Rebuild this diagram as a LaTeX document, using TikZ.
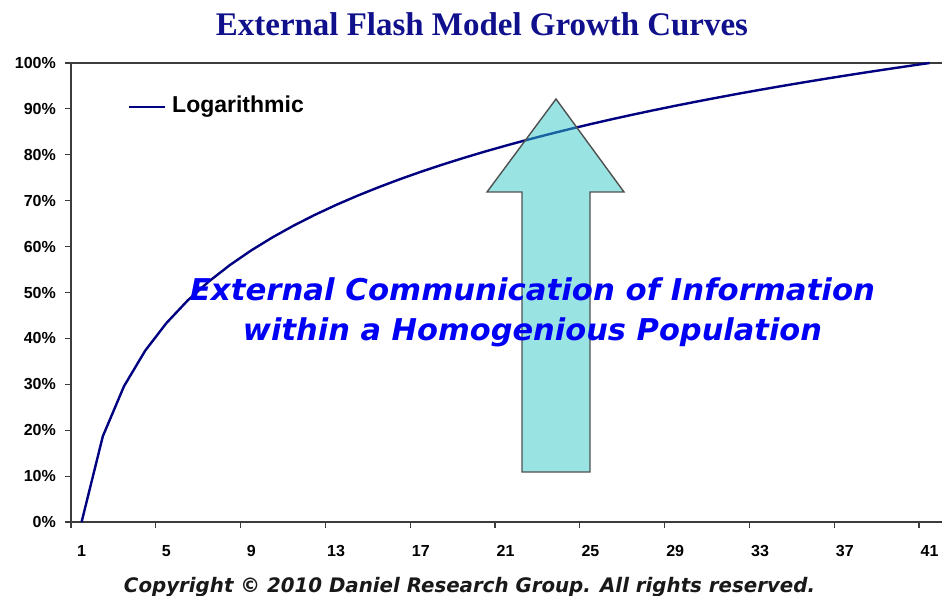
\documentclass[tikz,border=0pt]{standalone}
\usepackage{fontspec}
\usepackage{graphicx}
\setmainfont{Liberation Sans}
\newfontfamily\titlefont{Liberation Serif}
\newfontfamily\verdanafont{DejaVu Sans}
\definecolor{navy}{RGB}{0,0,128}
\definecolor{titleblue}{RGB}{16,16,140}
\definecolor{arrowfill}{RGB}{51,199,199}
\definecolor{arrowline}{RGB}{80,80,80}
\definecolor{textblue}{RGB}{0,0,245}
\definecolor{axisgray}{RGB}{60,60,60}
\tikzset{
  axisline/.style={draw=axisgray, line width=1.2pt},
  curveline/.style={draw=navy, line width=2.4pt, line join=round},
  ylab/.style={anchor=east, font=\bfseries\fontsize{16}{16}\selectfont, inner sep=0pt},
  xlab/.style={anchor=center, font=\bfseries\fontsize{16}{16}\selectfont, inner sep=0pt},
  bigarrow/.style={fill=arrowfill, fill opacity=0.5, draw=arrowline, line width=1.4pt, line join=miter},
  msgtext/.style={anchor=base, inner sep=0pt, text=textblue, font=\verdanafont\bfseries\itshape\fontsize{30}{30}\selectfont},
}
\begin{document}
\begin{tikzpicture}[x=1pt,y=-1pt]
\useasboundingbox (0,0) rectangle (942,596);
% title
\node[anchor=base, inner sep=0pt, text=titleblue, font=\titlefont\bfseries\fontsize{33}{33}\selectfont] (title) at (482,36)
  {\resizebox{532pt}{\height}{External Flash Model Growth Curves}};
% axes
\coordinate (tl) at (65,63);
\coordinate (tr) at (942,63);
\coordinate (ya) at (71,63);
\coordinate (yb) at (71,522);
\coordinate (xa) at (71,522);
\coordinate (xb) at (942,522);
\draw[axisline] (tl) -- (tr);
\draw[axisline] (ya) -- (yb);
\draw[axisline] (xa) -- (xb);
\foreach \i in {0,...,10} {
  \coordinate (yt\i) at (65,{522-45.9*\i});
  \coordinate (ye\i) at (71,{522-45.9*\i});
  \draw[axisline] (yt\i) -- (ye\i);
  \pgfmathtruncatemacro{\pc}{\i*10}
  \node[ylab] (yl\i) at (56,{522-45.9*\i}) {\pc\%};
}
\foreach \k in {0,...,10} {
  \coordinate (xt\k) at ({71+84.8*\k},522);
  \coordinate (xe\k) at ({71+84.8*\k},528);
  \draw[axisline] (xt\k) -- (xe\k);
  \pgfmathtruncatemacro{\n}{4*\k+1}
  \node[xlab] (xl\k) at ({71+(\n-0.5)*21.2},551) {\n};
}
% curve
\draw[curveline] plot[domain=1:41, samples=41] ({71+(\x-0.5)*21.2},{522-459*ln(\x)/3.713572});
% legend
\coordinate (lg1) at (129,107);
\coordinate (lg2) at (165,107);
\draw[draw=navy, line width=2.4pt] (lg1) -- (lg2);
\node[anchor=west, inner sep=0pt, font=\bfseries\fontsize{23}{23}\selectfont] (legend) at (172,107) {Logarithmic};
% arrow
\draw[bigarrow] (556,99) -- (624,192) -- (590,192) -- (590,472) -- (522,472) -- (522,192) -- (487,192) -- cycle;
% message
\node[msgtext] (msg1) at (532.5,300) {\resizebox{685pt}{\height}{External Communication of Information}};
\node[msgtext] (msg2) at (532.5,340) {\resizebox{579pt}{\height}{within a Homogenious Population}};
% copyright
\node[anchor=base, inner sep=0pt, text=black!90, font=\verdanafont\bfseries\itshape\fontsize{20}{20}\selectfont] (copy) at (469.5,592)
  {\resizebox{691pt}{\height}{Copyright \textcopyright\ 2010 Daniel Research Group. All rights reserved.}};
\end{tikzpicture}
\end{document}
